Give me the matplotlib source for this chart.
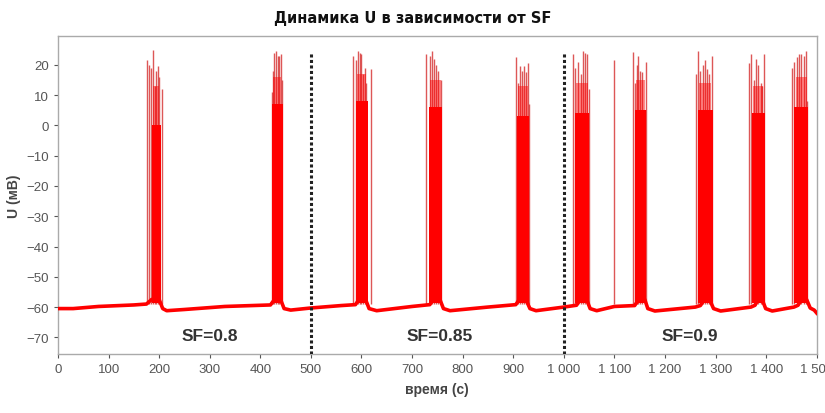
import matplotlib
matplotlib.use("Agg")
import matplotlib.pyplot as plt
from matplotlib.lines import Line2D

# resting potential (slow drift), read at knots, mV
base_t = [0, 30, 80, 150, 175, 185, 200, 207, 215, 250, 330, 420, 428, 440, 447, 460,
          500, 560, 588, 595, 608, 615, 630, 700, 735, 742, 755, 762, 775, 850,
          905, 912, 925, 933, 945, 1000, 1025, 1033, 1045, 1052, 1065, 1100,
          1140, 1148, 1160, 1166, 1180, 1260, 1270, 1278, 1288, 1296, 1310,
          1370, 1378, 1384, 1392, 1399, 1412, 1455, 1463, 1470, 1480, 1487, 1495, 1500]
base_u = [-60.5, -60.5, -59.8, -59.3, -59.0, -57.5, -57.5, -60.5, -61.2, -60.8, -59.8, -59.3, -57.5, -57.5, -60.5, -61.0,
          -60.3, -59.5, -59.2, -57.5, -57.5, -60.5, -61.2, -59.8, -59.2, -57.5, -57.5, -60.5, -61.2, -60.0,
          -59.2, -57.5, -57.5, -60.5, -61.2, -60.0, -59.4, -57.5, -57.5, -60.5, -61.2, -59.8,
          -59.5, -57.5, -57.5, -60.5, -61.3, -60.0, -59.5, -57.5, -57.5, -60.5, -61.3,
          -60.0, -59.4, -57.5, -57.5, -60.5, -61.3, -60.0, -59.4, -57.5, -57.5, -60.3, -61.0, -62.0]

# dense part of every burst: start, end, level of the solid core, level of the paler part
burst_start = [185, 424, 590, 734, 907, 1022, 1140, 1266, 1372, 1456]
burst_end = [203, 444, 612, 760, 932, 1050, 1163, 1294, 1397, 1483]
burst_top = [0, 7, 8, 6, 3, 4, 5, 5, 4, 6]
burst_mid = [13, 16, 17, 15, 13, 14, 15, 14, 13, 16]

# tallest visible spikes (s, mV)
spike_t = [176, 180, 184, 188, 191, 194, 197, 200, 205,
           423, 426, 428, 431, 434, 437, 440, 443,
           583, 590, 594, 597, 600, 603, 606, 609, 619,
           727, 735, 740, 744, 748, 752, 757,
           905, 909, 913, 917, 921, 925, 929, 932,
           1018, 1023, 1028, 1033, 1037, 1041, 1046, 1050,
           1099,
           1137, 1140, 1144, 1147, 1151, 1155, 1162,
           1261, 1266, 1270, 1275, 1279, 1283, 1287, 1292,
           1367, 1371, 1375, 1379, 1384, 1389, 1392, 1396,
           1452, 1456, 1460, 1465, 1469, 1474, 1478, 1481]
spike_u = [21.5, 20, 19, 25, 13, 18, 19.5, 16, 12,
           11, 18, 24, 24.5, 23, 23, 23.5, 15,
           23, 21.5, 24.5, 24, 23.5, 17, 19, 14, 18.5,
           23.5, 23, 24.5, 22, 20, 18, 15,
           22.5, 14, 19.5, 18, 19.5, 17.5, 20.5, 7,
           23.5, 19, 21, 17, 24.5, 24, 23.5, 12,
           21.5,
           24.2, 14, 20, 23, 18, 17.5, 21,
           17, 24.5, 18, 20, 21.5, 18.5, 17, 23,
           20.5, 23.5, 15, 22, 20, 14, 13, 23.5,
           19, 21, 22.5, 23.5, 23.5, 23, 24.5, 8]

sf_labels = ["SF=0.8", "SF=0.85", "SF=0.9"]
sf_label_t = [300, 755, 1250]
sf_bounds = [500, 1000]

xticks = list(range(0, 1501, 100))
yticks = list(range(-70, 21, 10))

red = "#ff0000"
arial = "Liberation Sans"

fig = plt.figure(figsize=(8.25, 4.14), dpi=100)
ax = fig.add_axes([0.0703, 0.1425, 0.9197, 0.768])

ax.plot(base_t, base_u, color=red, lw=2.6, solid_joinstyle="round", zorder=3)
for s, e, top, mid in zip(burst_start, burst_end, burst_top, burst_mid):
    ax.fill_between([s, e], -58.5, top, color=red, lw=0, zorder=3)
    ax.fill_between([s + 2, e - 3], top, mid, color=red, alpha=0.45, lw=0, zorder=3)
ax.vlines(spike_t, -59, spike_u, color="#d83a3a", lw=1.0, alpha=0.85, zorder=2)

for b in sf_bounds:
    ax.axvline(b, ymin=0.0, ymax=0.95, color="#222222", lw=2.2,
               linestyle=(0, (1, 0.8)), zorder=4)

for lab, t in zip(sf_labels, sf_label_t):
    ax.text(t, -69.5, lab, ha="center", va="center", fontsize=12.5,
            fontweight="bold", color="#333333", family=arial)

ax.set_xlim(0, 1500)
ax.set_ylim(-75.5, 29.5)
ax.set_xticks(xticks)
ax.set_xticklabels([f"{v:,}".replace(",", " ") for v in xticks])
ax.set_yticks(yticks)
ax.tick_params(colors="#555555", labelsize=9.5, length=3, width=0.8)
for lbl in ax.get_xticklabels() + ax.get_yticklabels():
    lbl.set_family(arial)
for sp in ax.spines.values():
    sp.set_color("#aaaaaa")
    sp.set_linewidth(1.0)

ax.set_xlabel("время (с)", fontsize=10, fontweight="bold", color="#444444",
              family=arial, labelpad=5)
ax.set_ylabel("U (мВ)", fontsize=10, fontweight="bold", color="#444444",
              family=arial, labelpad=4)
fig.text(0.5, 0.955, "Динамика U в зависимости от SF", ha="center", va="center",
         fontsize=10.5, fontweight="bold", family="DejaVu Sans", color="#111111")

handle = Line2D([], [], color="#cc4444", lw=2)
fig.legend([handle], ["U"], loc="upper center", bbox_to_anchor=(0.5, 0.03),
           frameon=False, handlelength=1.0, prop={"family": arial, "size": 9})

fig.savefig("out.png", dpi=100)
